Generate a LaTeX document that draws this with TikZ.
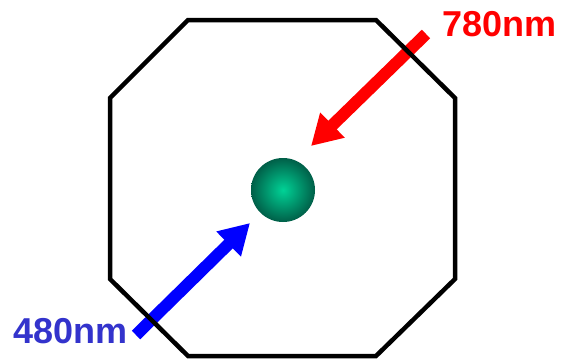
\documentclass[tikz,border=0pt]{standalone}
\usepackage{fontspec}
\setmainfont{Liberation Sans}
\usetikzlibrary{arrows.meta,positioning}
\definecolor{beamred}{RGB}{255,0,0}
\definecolor{beamblue}{RGB}{0,0,255}
\definecolor{labelblue}{RGB}{51,51,204}
\definecolor{atomlight}{RGB}{0,210,150}
\definecolor{atomdark}{RGB}{0,95,72}

\begin{document}
\begin{tikzpicture}[
  x=1pt, y=-1pt,
  wall/.style={draw=black, line width=4.5pt, line join=miter},
  atom/.style={circle, minimum size=64pt, inner sep=0pt, inner color=atomlight, outer color=atomdark},
  beam/.style={line width=12pt, -{Triangle[width=33pt,length=30pt]}},
  wavelength/.style={font=\fontsize{36}{40}\selectfont\bfseries, inner sep=0pt}
]
\useasboundingbox (0,0) rectangle (562,360);
\node[atom] (atom) at (283,190) {};
% beams
\coordinate (redtail) at (426,34);
\coordinate (redtip) at (311,146);
\coordinate (bluetail) at (136,335);
\coordinate (bluetip) at (250,223);
\draw[beam, beamred] (redtail) -- (redtip);
\draw[beam, beamblue] (bluetail) -- (bluetip);
% chamber
\draw[wall] (188,20) -- (376,20) -- (455,98) -- (455,279) -- (376,356)
  -- (188,356) -- (110,279) -- (110,98) -- cycle;
\node[wavelength, text=beamred, anchor=base west] (red) at (442,36) {780nm};
\node[wavelength, text=labelblue, anchor=base west] (blue) at (13,343) {480nm};
\end{tikzpicture}
\end{document}
